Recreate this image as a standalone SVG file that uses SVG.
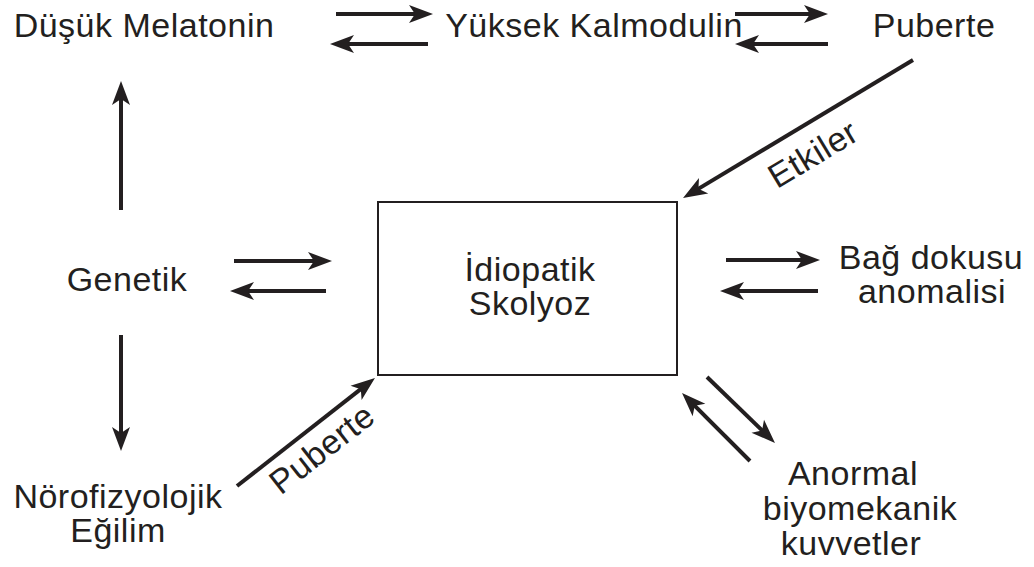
<svg xmlns="http://www.w3.org/2000/svg" width="1034" height="567" viewBox="0 0 1034 567">
<style>
text{font-family:"Liberation Sans",Arial,Helvetica,sans-serif;font-size:34px;fill:#231f20;text-anchor:middle;letter-spacing:0.5px}
.c line{stroke:#231f20;stroke-width:4;marker-end:url(#ah)}
.box{fill:#fff;stroke:#231f20;stroke-width:2}
</style>
<defs>
<marker id="ah" markerUnits="userSpaceOnUse" markerWidth="30" markerHeight="24" viewBox="-16 -12 30 24" refX="0" refY="0" orient="auto">
<path d="M10,0 L-14,-9 L-8,0 L-14,9 Z" fill="#231f20"/>
</marker>
</defs>
<rect width="1034" height="567" fill="#fff"/>
<g id="n-melatonin"><text x="144" y="37">Düşük Melatonin</text></g>
<g id="n-kalmodulin"><text x="594" y="37">Yüksek Kalmodulin</text></g>
<g id="n-puberte"><text x="934" y="37">Puberte</text></g>
<g id="n-genetik"><text x="127" y="291">Genetik</text></g>
<g id="n-skolyoz"><rect class="box" x="378" y="202" width="299" height="173"/><text x="530" y="281">İdiopatik</text><text x="530" y="315">Skolyoz</text></g>
<g id="n-bag"><text x="931" y="269">Bağ dokusu</text><text x="932" y="303">anomalisi</text></g>
<g id="n-norofizyolojik"><text x="118" y="508">Nörofizyolojik</text><text x="118" y="542">Eğilim</text></g>
<g id="n-anormal"><text x="853" y="485">Anormal</text><text x="860" y="520">biyomekanik</text><text x="851" y="555">kuvvetler</text></g>
<g id="connectors" class="c">
<line x1="336" y1="14" x2="423" y2="14"/>
<line x1="428" y1="44" x2="340" y2="44"/>
<line x1="735" y1="14" x2="818" y2="14"/>
<line x1="828" y1="44" x2="745" y2="44"/>
<line x1="913" y1="60" x2="691.6" y2="192.9"/>
<line x1="121" y1="210" x2="121" y2="91"/>
<line x1="121" y1="335" x2="121" y2="441"/>
<line x1="234" y1="261" x2="322" y2="261"/>
<line x1="326" y1="291" x2="240" y2="291"/>
<line x1="237" y1="486" x2="367.1" y2="384.2"/>
<line x1="726" y1="260" x2="810" y2="260"/>
<line x1="818" y1="291" x2="730" y2="291"/>
<line x1="707" y1="377" x2="767.8" y2="436"/>
<line x1="750" y1="461" x2="689.1" y2="400.1"/>
<text transform="translate(819,164) rotate(-31)">Etkiler</text>
<text transform="translate(329,458) rotate(-38)">Puberte</text>
</g>
</svg>
